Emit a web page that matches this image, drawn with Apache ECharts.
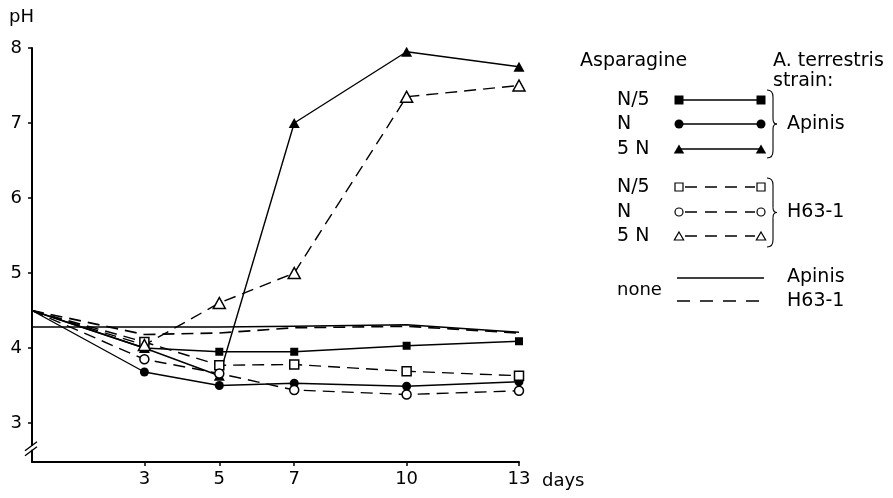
<!DOCTYPE html>
<html>
<head>
<meta charset="utf-8">
<script src="https://cdn.jsdelivr.net/npm/echarts@6/dist/echarts.min.js"></script>
<style>
html,body{margin:0;padding:0;background:#fff;}
#c{width:893px;height:498px;}
</style>
</head>
<body>
<div id="c"></div>
<script>
// ---- data ----
const days = [0, 3, 5, 7, 10, 13];
const apinisN5 = [4.5, 4.0, 3.95, 3.95, 4.03, 4.09];
const apinisN = [4.5, 3.68, 3.5, 3.53, 3.49, 3.55];
const apinis5N = [4.5, 4.0, 3.63, 7.0, 7.95, 7.75];
const h63N5 = [4.5, 4.08, 3.77, 3.78, 3.69, 3.63];
const h63N = [4.5, 3.85, 3.66, 3.44, 3.38, 3.43];
const h635N = [4.5, 4.04, 4.6, 5.0, 7.35, 7.5];
const noneApinis = [4.28, 4.28, 4.28, 4.29, 4.31, 4.21];
const noneH63 = [4.5, 4.18, 4.2, 4.27, 4.29, 4.2];
const xTickDays = [3, 5, 7, 10, 13];
const yTickPH = [3, 4, 5, 6, 7, 8];

const FONT = 'DejaVu Sans';
const chart = echarts.init(document.getElementById('c'), null, {renderer: 'canvas'});

function toData(vals, markers) {
  return days.map((d, i) => (i === 0 || !markers) ? {value: [d, vals[i]], symbol: 'none'} : [d, vals[i]]);
}
function mk(name, vals, symbol, size, filled, dashed, markers, lw, z) {
  return {
    name: name,
    type: 'line',
    data: toData(vals, markers),
    symbol: markers ? symbol : 'none',
    symbolSize: size,
    showSymbol: markers,
    showAllSymbol: true,
    z: z,
    lineStyle: {color: '#000', width: lw, type: dashed ? [12, 7] : 'solid'},
    itemStyle: {color: filled ? '#000' : '#fff', borderColor: '#000', borderWidth: filled ? 0 : 1.5, opacity: 1},
    emphasis: {disabled: true},
    animation: false
  };
}

const option = {
  animation: false,
  backgroundColor: '#fff',
  grid: {left: 32, right: 374, top: 48, bottom: 36},
  xAxis: {
    type: 'value', min: 0, max: 13,
    name: 'days', nameLocation: 'end', nameGap: 23,
    nameTextStyle: {color: '#000', fontSize: 18, fontFamily: FONT, verticalAlign: 'top', padding: [10, 0, 0, 0]},
    axisLine: {show: true, onZero: false, lineStyle: {color: '#000', width: 2}},
    axisTick: {show: true, length: 4, lineStyle: {color: '#000', width: 1.5}, customValues: xTickDays},
    axisLabel: {color: '#000', fontSize: 18, fontFamily: FONT, margin: 8, customValues: xTickDays},
    splitLine: {show: false}
  },
  yAxis: {
    type: 'value', min: 2.48, max: 8,
    name: 'pH', nameLocation: 'end', nameGap: 22,
    nameTextStyle: {color: '#000', fontSize: 18, fontFamily: FONT, align: 'right', padding: [0, -2, 0, 0]},
    axisLine: {show: true, lineStyle: {color: '#000', width: 2}},
    axisTick: {show: true, length: 4, lineStyle: {color: '#000', width: 1.5}, customValues: yTickPH},
    axisLabel: {color: '#000', fontSize: 18, fontFamily: FONT, margin: 10, customValues: yTickPH},
    splitLine: {show: false}
  },
  series: [
    mk('none Apinis', noneApinis, 'none', 0, true, false, false, 1.7, 2),
    mk('none H63-1', noneH63, 'none', 0, true, true, false, 1.7, 2),
    mk('N/5 Apinis', apinisN5, 'rect', 8, true, false, true, 1.4, 3),
    mk('N Apinis', apinisN, 'circle', 9, true, false, true, 1.4, 3),
    mk('5 N Apinis', apinis5N, 'triangle', [11, 10], true, false, true, 1.4, 3),
    mk('N/5 H63-1', h63N5, 'rect', 9, false, true, true, 1.4, 4),
    mk('N H63-1', h63N, 'circle', 9, false, true, true, 1.4, 4),
    mk('5 N H63-1', h635N, 'triangle', [12, 11], false, true, true, 1.4, 4)
  ]
};
chart.setOption(option);

// ---- legend & decorations (graphic) ----
const g = [];
function txt(t, x, y, size, align) {
  g.push({type: 'text', z: 10, style: {text: t, x: x, y: y, fill: '#000', fontSize: size || 19, fontFamily: FONT, verticalAlign: 'middle', align: align || 'left'}});
}
function ln(x1, y1, x2, y2, dash, w, z) {
  g.push({type: 'line', z: z || 10, shape: {x1: x1, y1: y1, x2: x2, y2: y2}, style: {stroke: '#000', lineWidth: w || 1.3, lineDash: dash || null}});
}
function qc(x1, y1, cx, cy, x2, y2) {
  g.push({type: 'bezierCurve', z: 10, shape: {x1: x1, y1: y1, cpx1: cx, cpy1: cy, x2: x2, y2: y2}, style: {stroke: '#000', lineWidth: 1.1, fill: null}});
}
function marker(kind, filled, cx, cy, s) {
  const fill = filled ? '#000' : '#fff';
  const st = {fill: fill, stroke: '#000', lineWidth: filled ? 0 : 1.2};
  if (kind === 'rect') g.push({type: 'rect', z: 11, shape: {x: cx - s / 2, y: cy - s / 2, width: s, height: s}, style: st});
  else if (kind === 'circle') g.push({type: 'circle', z: 11, shape: {cx: cx, cy: cy, r: s / 2}, style: st});
  else g.push({type: 'polygon', z: 11, shape: {points: [[cx, cy - s / 2], [cx + s * 0.58, cy + s / 2], [cx - s * 0.58, cy + s / 2]]}, style: st});
}
function brace(x, y0, y1) {
  const ym = (y0 + y1) / 2;
  qc(x, y0, x + 6, y0, x + 6, y0 + 7);
  ln(x + 6, y0 + 7, x + 6, ym - 5, null, 1.1);
  qc(x + 6, ym - 5, x + 6, ym, x + 10, ym);
  qc(x + 10, ym, x + 6, ym, x + 6, ym + 5);
  ln(x + 6, ym + 5, x + 6, y1 - 7, null, 1.1);
  qc(x + 6, y1 - 7, x + 6, y1, x, y1);
}

txt('Asparagine', 580, 61);
txt('A. terrestris', 773, 61);
txt('strain:', 773, 81);

const L1 = 679, L2 = 761;
const rows1 = [[100, 'N/5', 'rect'], [124, 'N', 'circle'], [149, '5 N', 'triangle']];
rows1.forEach(r => {
  txt(r[1], 617, r[0]);
  ln(L1, r[0], L2, r[0], null, 1.4);
  marker(r[2], true, L1, r[0], 9);
  marker(r[2], true, L2, r[0], 9);
});
brace(767, 90, 158);
txt('Apinis', 787, 124);

const rows2 = [[187, 'N/5', 'rect'], [212, 'N', 'circle'], [236, '5 N', 'triangle']];
rows2.forEach(r => {
  txt(r[1], 617, r[0]);
  ln(L1 + 6, r[0], L2 - 6, r[0], [12, 8], 1.4);
  marker(r[2], false, L1, r[0], 8);
  marker(r[2], false, L2, r[0], 8);
});
brace(767, 178, 247);
txt('H63-1', 787, 212);

ln(677, 278, 764, 278, null, 1.5);
ln(677, 301, 764, 301, [13, 10], 1.5);
txt('none', 617, 290, 18);
txt('Apinis', 787, 277);
txt('H63-1', 787, 301);

// axis break marks on the y axis
const bp = chart.convertToPixel({gridIndex: 0}, [0, 2.67]);
g.push({type: 'rect', z: 12, shape: {x: bp[0] - 3, y: bp[1] - 2, width: 6, height: 4}, style: {fill: '#fff'}});
ln(bp[0] - 7, bp[1] + 3, bp[0] + 5, bp[1] - 6, null, 1.4, 13);
ln(bp[0] - 7, bp[1] + 8, bp[0] + 5, bp[1] - 1, null, 1.4, 13);

chart.setOption({graphic: g});
</script>
</body>
</html>
